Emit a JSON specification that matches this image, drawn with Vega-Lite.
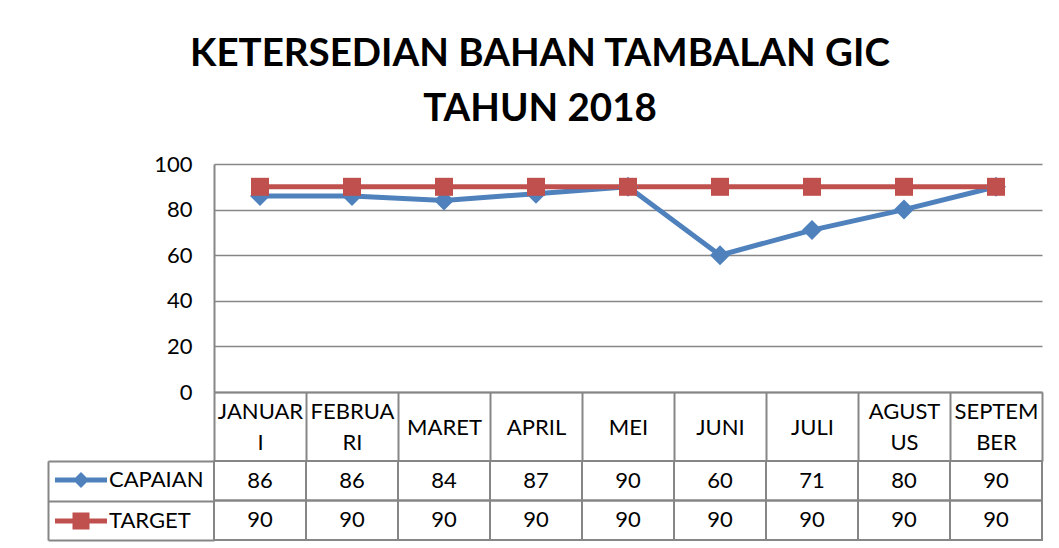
{
  "$schema": "https://vega.github.io/schema/vega-lite/v6.json",
  "background": "white",
  "padding": {"left": 47, "top": 34, "right": 8, "bottom": 4},
  "config": {"font": "Lato", "view": {"stroke": null}},
  "title": {
    "text": ["KETERSEDIAN BAHAN TAMBALAN GIC", "TAHUN 2018"],
    "font": "Lato", "fontSize": 38.5, "fontWeight": "bold", "color": "black",
    "lineHeight": 55, "anchor": "middle", "offset": 24, "dx": -5
  },
  "datasets": {
    "d": [
      {"month": "JANUARI", "series": "CAPAIAN", "value": 86},
      {"month": "FEBRUARI", "series": "CAPAIAN", "value": 86},
      {"month": "MARET", "series": "CAPAIAN", "value": 84},
      {"month": "APRIL", "series": "CAPAIAN", "value": 87},
      {"month": "MEI", "series": "CAPAIAN", "value": 90},
      {"month": "JUNI", "series": "CAPAIAN", "value": 60},
      {"month": "JULI", "series": "CAPAIAN", "value": 71},
      {"month": "AGUSTUS", "series": "CAPAIAN", "value": 80},
      {"month": "SEPTEMBER", "series": "CAPAIAN", "value": 90},
      {"month": "JANUARI", "series": "TARGET", "value": 90},
      {"month": "FEBRUARI", "series": "TARGET", "value": 90},
      {"month": "MARET", "series": "TARGET", "value": 90},
      {"month": "APRIL", "series": "TARGET", "value": 90},
      {"month": "MEI", "series": "TARGET", "value": 90},
      {"month": "JUNI", "series": "TARGET", "value": 90},
      {"month": "JULI", "series": "TARGET", "value": 90},
      {"month": "AGUSTUS", "series": "TARGET", "value": 90},
      {"month": "SEPTEMBER", "series": "TARGET", "value": 90}
    ]
  },
  "spacing": 69,
  "bounds": "flush",
  "vconcat": [
    {
      "width": 828,
      "height": 228,
      "data": {"name": "d"},
      "encoding": {
        "x": {
          "field": "month", "type": "nominal",
          "sort": ["JANUARI", "FEBRUARI", "MARET", "APRIL", "MEI", "JUNI", "JULI", "AGUSTUS", "SEPTEMBER"],
          "scale": {"type": "band", "paddingInner": 0, "paddingOuter": 0},
          "axis": {
            "title": null, "orient": "bottom",
            "domainColor": "#868686", "domainWidth": 2,
            "ticks": true, "tickBand": "extent", "tickSize": 69, "tickColor": "#868686", "tickWidth": 2,
            "labelFont": "Lato", "labelFontSize": 22, "labelColor": "black", "labelAngle": 0,
            "labelLineHeight": 31,
            "labelBaseline": {
              "condition": {"test": "datum.value == 'JANUARI' || datum.value == 'FEBRUARI' || datum.value == 'AGUSTUS' || datum.value == 'SEPTEMBER'", "value": "line-bottom"},
              "value": "middle"
            },
            "labelPadding": -34,
            "labelOverlap": false, "labelBound": false, "labelFlush": false,
            "labelExpr": "datum.value == 'JANUARI' ? ['JANUAR', 'I'] : datum.value == 'FEBRUARI' ? ['FEBRUA', 'RI'] : datum.value == 'AGUSTUS' ? ['AGUST', 'US'] : datum.value == 'SEPTEMBER' ? ['SEPTEM', 'BER'] : datum.value"
          }
        },
        "y": {
          "field": "value", "type": "quantitative",
          "scale": {"domain": [0, 100]},
          "axis": {
            "title": null, "values": [0, 20, 40, 60, 80, 100],
            "grid": true, "gridColor": "#868686", "gridWidth": 1.5,
            "domain": true, "domainColor": "#868686", "domainWidth": 2,
            "ticks": false, "tickSize": 0,
            "labelFont": "Lato", "labelFontSize": 22, "labelColor": "black", "labelPadding": 22
          }
        },
        "color": {
          "field": "series", "type": "nominal",
          "scale": {"domain": ["CAPAIAN", "TARGET"], "range": ["#4F81BD", "#C0504D"]},
          "legend": {
            "orient": "none", "legendX": -144, "legendY": 305, "title": null,
            "direction": "vertical", "padding": 0,
            "labelFont": "Lato", "labelFontSize": 22, "labelColor": "black",
            "symbolSize": 400, "labelOffset": 17, "rowPadding": 19,
            "encode": {
              "symbols": {
                "update": {
                  "shape": {"signal": "datum.value === 'CAPAIAN' ? 'M-2.6,-0.25L2.6,-0.25L2.6,0.25L-2.6,0.25Z M-0.8,0L0,-0.8L0.8,0L0,0.8Z' : 'M-2.6,-0.25L2.6,-0.25L2.6,0.25L-2.6,0.25Z M-0.85,-0.85L0.85,-0.85L0.85,0.85L-0.85,0.85Z'"},
                  "fill": {"signal": "datum.value === 'CAPAIAN' ? '#4F81BD' : '#C0504D'"},
                  "stroke": {"value": "transparent"},
                  "strokeWidth": {"value": 0},
                  "opacity": {"value": 1},
                  "size": {"value": 400}
                }
              }
            }
          }
        }
      },
      "layer": [
        {"mark": {"type": "line", "strokeWidth": 5}},
        {
          "transform": [{"filter": "datum.series === 'CAPAIAN'"}],
          "mark": {"type": "point", "shape": "diamond", "size": 400, "filled": true, "opacity": 1}
        },
        {
          "transform": [{"filter": "datum.series === 'TARGET'"}],
          "mark": {"type": "point", "shape": "square", "size": 324, "filled": true, "opacity": 1}
        }
      ]
    },
    {
      "width": 828,
      "height": 79,
      "data": {"name": "d"},
      "encoding": {
        "x": {
          "field": "month", "type": "nominal",
          "sort": ["JANUARI", "FEBRUARI", "MARET", "APRIL", "MEI", "JUNI", "JULI", "AGUSTUS", "SEPTEMBER"],
          "scale": {"type": "band", "paddingInner": 0, "paddingOuter": 0},
          "axis": null
        },
        "y": {
          "field": "series", "type": "nominal",
          "sort": ["CAPAIAN", "TARGET"],
          "scale": {"type": "band", "paddingInner": 0, "paddingOuter": 0},
          "axis": {
            "orient": "left", "offset": 166, "title": null, "labels": false, "grid": false,
            "domain": true, "domainColor": "#868686", "domainWidth": 2,
            "ticks": true, "tickBand": "extent", "tickSize": -166, "tickColor": "#868686", "tickWidth": 2
          }
        }
      },
      "layer": [
        {"mark": {"type": "rect", "fill": "transparent", "stroke": "#868686", "strokeWidth": 2}},
        {
          "mark": {"type": "text", "font": "Lato", "fontSize": 22, "color": "black"},
          "encoding": {"text": {"field": "value", "type": "quantitative"}}
        }
      ]
    }
  ]
}
